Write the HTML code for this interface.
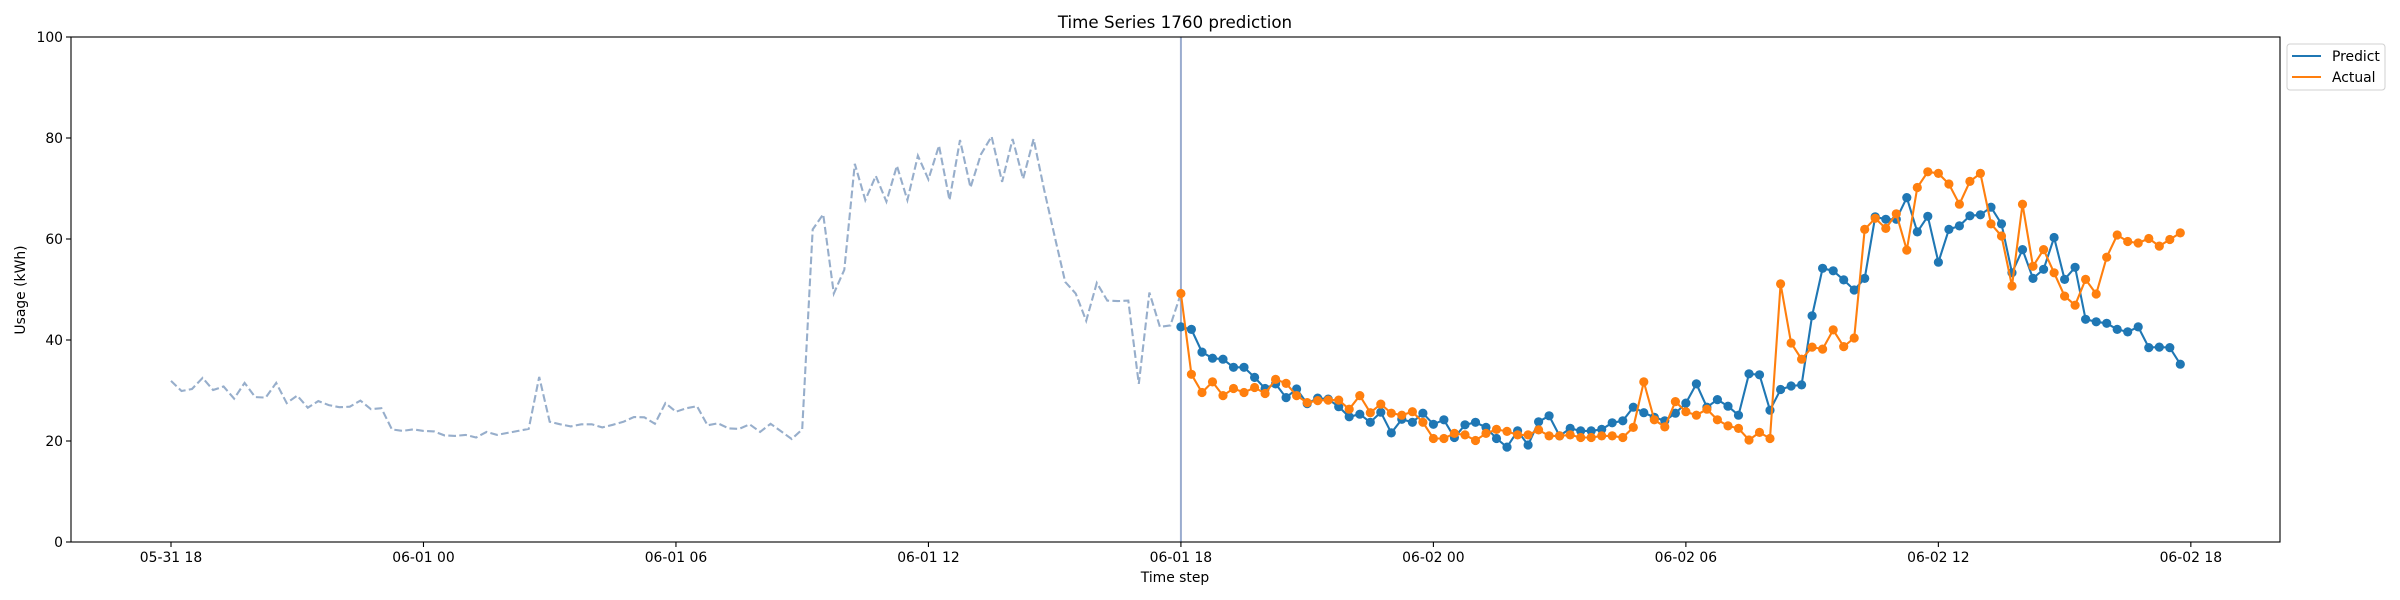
<!DOCTYPE html>
<html><head><meta charset="utf-8"><style>
html,body{margin:0;padding:0;background:#fff;}
svg{display:block;font-family:"DejaVu Sans","Liberation Sans",sans-serif;}
</style></head><body>
<svg id="chart" width="2400" height="600" viewBox="0 0 2400 600" xmlns="http://www.w3.org/2000/svg">
<rect x="0" y="0" width="2400" height="600" fill="#fff"/>
<text x="1175" y="28" text-anchor="middle" font-size="16.7">Time Series 1760 prediction</text>
<text x="1175" y="582" text-anchor="middle" font-size="13.9">Time step</text>
<text transform="translate(25,290) rotate(-90)" text-anchor="middle" font-size="13.9">Usage (kWh)</text>
<g id="plot"></g>
<g id="axes"></g>
<g>
<rect x="2287" y="44" width="98" height="46" rx="3" fill="#fff" stroke="#d0d0d0" stroke-width="1"/>
<line x1="2292" y1="56" x2="2321" y2="56" stroke="#1f77b4" stroke-width="2.1"/>
<text x="2332" y="61" font-size="13.9">Predict</text>
<line x1="2292" y1="77" x2="2321" y2="77" stroke="#ff7f0e" stroke-width="2.1"/>
<text x="2332" y="82" font-size="13.9">Actual</text>
</g>
</svg>
<script>
const history = [31.9,29.9,30.3,32.5,30.1,30.8,28.4,31.5,28.7,28.6,31.5,27.5,29.0,26.6,27.9,27.1,26.7,26.8,28.0,26.3,26.5,22.3,22.0,22.3,22.0,21.9,21.1,21.0,21.2,20.7,21.8,21.2,21.6,22.0,22.4,32.7,23.8,23.3,22.9,23.3,23.3,22.7,23.2,23.8,24.75,24.7,23.4,27.5,25.8,26.5,26.9,23.1,23.5,22.5,22.4,23.3,21.8,23.4,21.9,20.4,22.3,61.9,64.9,49.2,53.9,74.9,67.7,72.5,67.4,74.5,67.7,76.5,71.8,78.5,67.7,79.6,70.2,76.8,80.3,71.3,79.8,71.9,79.8,69.7,60.5,51.5,49.2,43.8,51.3,47.8,47.7,47.8,31.3,49.4,42.6,42.9,49.2];
const predict = [42.6,42.1,37.6,36.4,36.2,34.6,34.6,32.6,30.4,31.3,28.6,30.3,27.4,28.5,28.3,26.8,24.8,25.3,23.7,25.7,21.6,24.3,23.7,25.5,23.3,24.2,20.7,23.2,23.7,22.7,20.5,18.8,22.0,19.2,23.8,25.0,21.0,22.5,22.0,22.0,22.3,23.6,24.0,26.7,25.6,24.7,24.0,25.5,27.5,31.3,26.7,28.2,26.9,25.1,33.3,33.1,26.1,30.2,30.9,31.1,44.8,54.2,53.7,51.9,49.9,52.2,64.4,63.9,63.9,68.2,61.4,64.5,55.4,61.9,62.6,64.6,64.8,66.3,63.0,53.3,57.9,52.2,54.0,60.3,52.0,54.4,44.1,43.6,43.3,42.1,41.6,42.6,38.5,38.6,38.5,35.2];
const actual = [49.2,33.2,29.6,31.7,29.0,30.4,29.6,30.6,29.4,32.2,31.4,29.0,27.6,28.0,28.1,28.1,26.3,29.0,25.6,27.3,25.5,25.1,25.8,23.7,20.5,20.5,21.5,21.2,20.1,21.5,22.3,21.9,21.2,21.2,22.2,21.0,21.0,21.2,20.7,20.7,21.0,21.0,20.7,22.7,31.7,24.2,22.8,27.8,25.8,25.1,26.3,24.2,23.0,22.5,20.2,21.7,20.5,51.1,39.4,36.2,38.6,38.2,42.0,38.7,40.4,61.9,64.1,62.1,65.0,57.8,70.2,73.3,73.0,70.9,66.9,71.4,73.0,63.0,60.6,50.7,66.9,54.6,57.9,53.3,48.7,46.9,52.0,49.1,56.4,60.8,59.5,59.2,60.1,58.6,59.9,61.2];
const yTicks = [0,20,40,60,80,100];
const xTickLabels = ["05-31 18","06-01 00","06-01 06","06-01 12","06-01 18","06-02 00","06-02 06","06-02 12","06-02 18"];
const xTickHours = [0,6,12,18,24,30,36,42,48];

const L=71,R=2280,T=37,B=542;
const X0=171, PXH=42.08;
function xH(h){return X0+h*PXH;}
function xIdx(i){return xH(i*0.25);}
function yV(v){return B-(B-T)*v/100;}
const NS="http://www.w3.org/2000/svg";
function mk(tag,attrs,parent){const e=document.createElementNS(NS,tag);for(const k in attrs)e.setAttribute(k,attrs[k]);parent.appendChild(e);return e;}
const plot=document.getElementById('plot');
const axes=document.getElementById('axes');

// history
let d=history.map((v,i)=>(i?'L':'M')+xIdx(i).toFixed(1)+' '+yV(v).toFixed(1)).join(' ');
const hp=mk('path',{d:d,fill:'none',stroke:'#97aecb','stroke-width':2.1,'stroke-dasharray':'7.7,3.3'},plot);



// vertical split line
const start=history.length-1;
const vl=mk('line',{x1:xIdx(start),x2:xIdx(start),y1:T,y2:B,stroke:'#9aaccf','stroke-width':2},plot);



function series(arr,color,name){
  const g=mk('g',{},plot);
  
  
  const dd=arr.map((v,i)=>(i?'L':'M')+xIdx(start+i).toFixed(1)+' '+yV(v).toFixed(1)).join(' ');
  const p=mk('path',{d:dd,fill:'none',stroke:color,'stroke-width':2.1},g);
  
  
  arr.forEach((v,i)=>{
    const c=mk('circle',{cx:xIdx(start+i).toFixed(1),cy:yV(v).toFixed(1),r:4.6,fill:color},g);
    
    
  });
}
series(predict,'#1f77b4','predict');
series(actual,'#ff7f0e','actual');

// axes frame
const fr=mk('rect',{x:L,y:T,width:R-L,height:B-T,fill:'none',stroke:'#000','stroke-width':1.1},axes);


yTicks.forEach(v=>{
  const y=yV(v);
  mk('line',{x1:L-5,x2:L,y1:y,y2:y,stroke:'#000','stroke-width':1.1},axes);
  const t=mk('text',{x:L-8,y:y+5,'text-anchor':'end','font-size':13.9},axes);
  t.textContent=v;
  
  
});
xTickHours.forEach((h,i)=>{
  const x=xH(h);
  mk('line',{x1:x,x2:x,y1:B,y2:B+5,stroke:'#000','stroke-width':1.1},axes);
  const t=mk('text',{x:x,y:B+20,'text-anchor':'middle','font-size':13.9},axes);
  t.textContent=xTickLabels[i];
  
  
});
</script>
</body></html>
